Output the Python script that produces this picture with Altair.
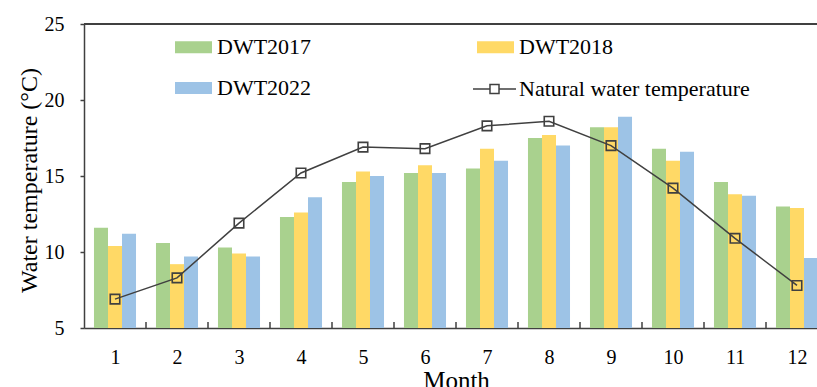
import altair as alt
import pandas as pd

# Monthly water temperature (°C)
months = list(range(1, 13))
dwt2017 = [11.6, 10.6, 10.3, 12.3, 14.6, 15.2, 15.5, 17.5, 18.2, 16.8, 14.6, 13.0]
dwt2018 = [10.4, 9.2, 9.9, 12.6, 15.3, 15.7, 16.8, 17.7, 18.2, 16.0, 13.8, 12.9]
dwt2022 = [11.2, 9.7, 9.7, 13.6, 15.0, 15.2, 16.0, 17.0, 18.9, 16.6, 13.7, 9.6]
natural = [6.9, 8.3, 11.9, 15.2, 16.9, 16.8, 18.3, 18.6, 17.0, 14.2, 10.9, 7.8]

series_names = ["DWT2017", "DWT2018", "DWT2022"]
series_colors = ["#A9D18E", "#FFD966", "#9DC3E6"]
line_name = "Natural water temperature"
y_ticks = [5, 10, 15, 20, 25]

FONT = "Liberation Serif"
INK = "#404040"
PLOT_W, PLOT_H = 733, 304
STEP = 62  # pixels per month

bars_df = pd.DataFrame(
    [
        {"month": m, "year": name, "slot": k, "value": v}
        for k, (name, vals) in enumerate(zip(series_names, [dwt2017, dwt2018, dwt2022]))
        for m, v in zip(months, vals)
    ]
)
line_df = pd.DataFrame({"month": months, "value": natural, "kind": line_name})
bounds_df = pd.DataFrame({"b": [m + 0.5 for m in months[:-1]]})

x_scale = alt.Scale(domain=[0.5, 0.5 + PLOT_W / STEP], nice=False, zero=False)
y_scale = alt.Scale(domain=[5, 25], nice=False, zero=False)

x_axis = alt.Axis(
    values=months, format="d", ticks=False, grid=False, labelFlush=False,
    labelOverlap=False, domainColor=INK, domainWidth=1.5, labelFontSize=20,
    labelColor="black", labelPadding=19, title="Month", titleFontSize=25,
    titleFontWeight="normal", titleColor="black", titleX=372, titleY=60,
    titleAlign="center", titleBaseline="alphabetic", titleAnchor="start",
)
y_axis = alt.Axis(
    values=y_ticks, format="d", grid=False, tickSize=4, tickColor=INK, tickWidth=1.5,
    domainColor=INK, domainWidth=1.5, labelFontSize=20, labelColor="black",
    labelPadding=16, title="Water temperature (°C)", titleFontSize=24,
    titleFontWeight="normal", titleColor="black", titleAngle=-90,
    titleX=-48, titleY=156, titleAlign="center", titleBaseline="alphabetic",
    titleAnchor="start",
)

rect_symbol = "M-1,-0.324H1V0.324H-1Z"
line_symbol = "M-1,0H-0.21M0.21,0H1M-0.21,-0.21H0.21V0.21H-0.21Z"

bars = (
    alt.Chart(bars_df)
    .transform_calculate(
        x0="datum.month - 0.339 + datum.slot * 0.226",
        x1="datum.x0 + 0.226",
    )
    .mark_bar(clip=True)
    .encode(
        x=alt.X("x0:Q", scale=x_scale, axis=x_axis),
        x2="x1:Q",
        y=alt.Y("value:Q", scale=y_scale, axis=y_axis),
        y2=alt.datum(5),
        color=alt.Color(
            "year:N",
            scale=alt.Scale(domain=series_names, range=series_colors),
            legend=alt.Legend(
                orient="none", legendX=91, legendY=4.5, columns=2,
                direction="horizontal", columnPadding=165, rowPadding=11,
                padding=0, title=None, symbolType=rect_symbol, symbolSize=1369,
                symbolStrokeWidth=0, symbolOpacity=1, labelFontSize=22,
                labelFont=FONT, labelColor="black", labelOffset=5, labelLimit=400,
            ),
        ),
    )
)

line = (
    alt.Chart(line_df)
    .mark_line(strokeWidth=1.5)
    .encode(
        x=alt.X("month:Q", scale=x_scale),
        y=alt.Y("value:Q", scale=y_scale),
        stroke=alt.Stroke(
            "kind:N",
            scale=alt.Scale(domain=[line_name], range=[INK]),
            legend=alt.Legend(
                orient="none", legendX=388, legendY=42.5, padding=0, title=None,
                symbolType=line_symbol, symbolSize=1849, symbolStrokeWidth=1.5,
                symbolFillColor="transparent", labelFontSize=22, labelFont=FONT,
                labelColor="black", labelOffset=2, labelLimit=400,
            ),
        ),
    )
)

points = (
    alt.Chart(line_df)
    .mark_point(shape="square", filled=False, size=90, strokeWidth=1.6, color=INK, opacity=1)
    .encode(
        x=alt.X("month:Q", scale=x_scale),
        y=alt.Y("value:Q", scale=y_scale),
    )
)

# inward ticks on the month axis, at the boundaries between months
month_ticks = (
    alt.Chart(bounds_df)
    .mark_rule(color=INK, strokeWidth=1.5)
    .encode(
        x=alt.X("b:Q", scale=x_scale),
        y=alt.value(PLOT_H),
        y2=alt.value(PLOT_H - 6),
    )
)

# frame line along the top of the plot
top_frame = (
    alt.Chart(bounds_df)
    .mark_rule(color=INK, strokeWidth=1.5)
    .encode(x=alt.value(0), x2=alt.value(PLOT_W), y=alt.value(0))
)

chart = (
    alt.layer(bars, month_ticks, top_frame, line, points)
    .properties(
        width=PLOT_W,
        height=PLOT_H,
        autosize=alt.AutoSizeParams(type="none"),
        padding={"left": 84, "top": 24, "right": 0, "bottom": 59},
        background="white",
    )
    .configure(font=FONT)
    .configure_view(stroke=None)
)

chart.save("out.html", embed_options={"renderer": "svg", "actions": False})
